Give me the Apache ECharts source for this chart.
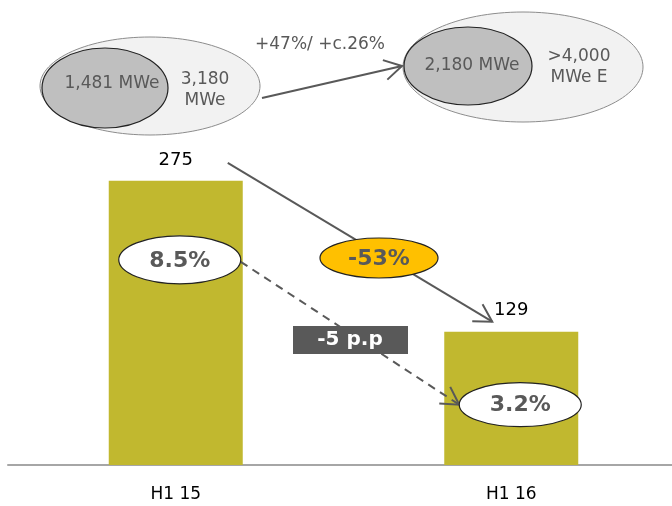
<!DOCTYPE html>
<html><head><meta charset="utf-8">
<script src="https://cdn.jsdelivr.net/npm/echarts@6/dist/echarts.min.js"></script>
<style>html,body{margin:0;padding:0;background:#fff;overflow:hidden;width:672px;height:506px}#chart{width:690px;height:506px}</style>
</head><body><div id="chart"></div>
<script>
// Half-year EBITDA (EUR m), margin and installed capacity
const periods = ['H1 15', 'H1 16'];
const ebitda = [275, 129];
const margins = ['8.5%', '3.2%'];
const ebitdaChange = '-53%';
const marginChange = '-5 p.p';
const capacityStart = ['1,481 MWe', '3,180\nMWe'];
const capacityEnd = ['2,180 MWe', '>4,000\nMWe E'];
const capacityGrowth = '+47%/ +c.26%';

const FONT = 'DejaVu Sans';
const GREY = '#595959';

const chart = echarts.init(document.getElementById('chart'), null, { renderer: 'canvas' });

chart.setOption({
  animation: false,
  grid: { left: 8, width: 671, top: 0, bottom: 41 },
  xAxis: {
    type: 'category',
    data: periods,
    axisLine: { lineStyle: { color: '#a6a6a6', width: 2 } },
    axisTick: { show: false },
    axisLabel: { color: '#000', fontSize: 17, fontFamily: FONT, margin: 21 }
  },
  yAxis: { type: 'value', min: 0, max: 450, show: false, splitLine: { show: false } },
  series: [{
    type: 'bar',
    data: ebitda,
    barWidth: 134,
    itemStyle: { color: '#c1b82f' },
    label: { show: true, position: 'top', distance: 12, color: '#000', fontSize: 18, fontFamily: FONT }
  }]
});

function arrow(x1, y1, x2, y2, dashed) {
  const a = Math.atan2(y2 - y1, x2 - x1);
  const L = 20, spread = Math.PI / 6;
  const h1 = [x2 - L * Math.cos(a - spread), y2 - L * Math.sin(a - spread)];
  const h2 = [x2 - L * Math.cos(a + spread), y2 - L * Math.sin(a + spread)];
  const style = { stroke: GREY, lineWidth: 2, fill: null };
  return [
    { type: 'line', shape: { x1, y1, x2, y2 }, style: Object.assign({}, style, dashed ? { lineDash: [8, 6] } : {}), z: 5 },
    { type: 'polyline', shape: { points: [h1, [x2, y2], h2] }, style, z: 5 }
  ];
}

function ellipse(cx, cy, rx, ry, fill, stroke, lw, z) {
  return { type: 'ellipse', shape: { cx, cy, rx, ry }, style: { fill, stroke, lineWidth: lw }, z };
}

function text(x, y, t, opts) {
  return {
    type: 'text', x, y, z: 20,
    style: Object.assign({ text: t, fill: GREY, fontFamily: FONT, fontSize: 17, align: 'center', verticalAlign: 'middle', lineHeight: 21 }, opts || {})
  };
}

function draw() {
  const p1 = chart.convertToPixel({ seriesIndex: 0 }, [0, ebitda[0]]);
  const p2 = chart.convertToPixel({ seriesIndex: 0 }, [1, ebitda[1]]);
  const els = [];

  // Capacity ellipses
  els.push(ellipse(150, 86, 110, 49, '#f2f2f2', '#8c8c8c', 1, 1));
  els.push(ellipse(105, 88, 63, 40, '#bfbfbf', '#222', 1.2, 2));
  els.push(text(112, 84, capacityStart[0]));
  els.push(text(205, 90, capacityStart[1]));
  els.push(ellipse(523, 67, 120, 55, '#f2f2f2', '#8c8c8c', 1, 1));
  els.push(ellipse(468, 66, 64, 39, '#bfbfbf', '#222', 1.2, 2));
  els.push(text(472, 66, capacityEnd[0]));
  els.push(text(579, 67, capacityEnd[1]));
  els.push(...arrow(262, 98, 402, 66, false));
  els.push(text(320, 45, capacityGrowth, { fontSize: 17 }));

  // EBITDA change arrow
  els.push(...arrow(p1[0] + 52, p1[1] - 18, p2[0] - 19, p2[1] - 10, false));
  els.push(ellipse(379, 258, 59, 20, '#ffc000', '#222', 1.2, 10));
  els.push(text(379, 259, ebitdaChange, { fontSize: 22, fontWeight: 'bold' }));

  // Margin ellipses and change
  const m1 = [p1[0] + 4, p1[1] + 79];
  const m2 = [p2[0] + 9, p2[1] + 73];
  els.push(...arrow(m1[0] + 61, m1[1] + 2, m2[0] - 61, m2[1], true));
  els.push(ellipse(m1[0], m1[1], 61, 24, '#fff', '#222', 1.2, 10));
  els.push(text(m1[0], m1[1] + 1, margins[0], { fontSize: 22, fontWeight: 'bold' }));
  els.push(ellipse(m2[0], m2[1], 61, 22, '#fff', '#222', 1.2, 10));
  els.push(text(m2[0], m2[1] + 1, margins[1], { fontSize: 22, fontWeight: 'bold' }));
  els.push({ type: 'rect', shape: { x: 293, y: 326, width: 115, height: 28 }, style: { fill: GREY }, z: 10 });
  els.push(text(350, 340, marginChange, { fontSize: 20, fontWeight: 'bold', fill: '#fff' }));

  chart.setOption({ graphic: { elements: els } });
}
draw();
</script>
</body></html>
